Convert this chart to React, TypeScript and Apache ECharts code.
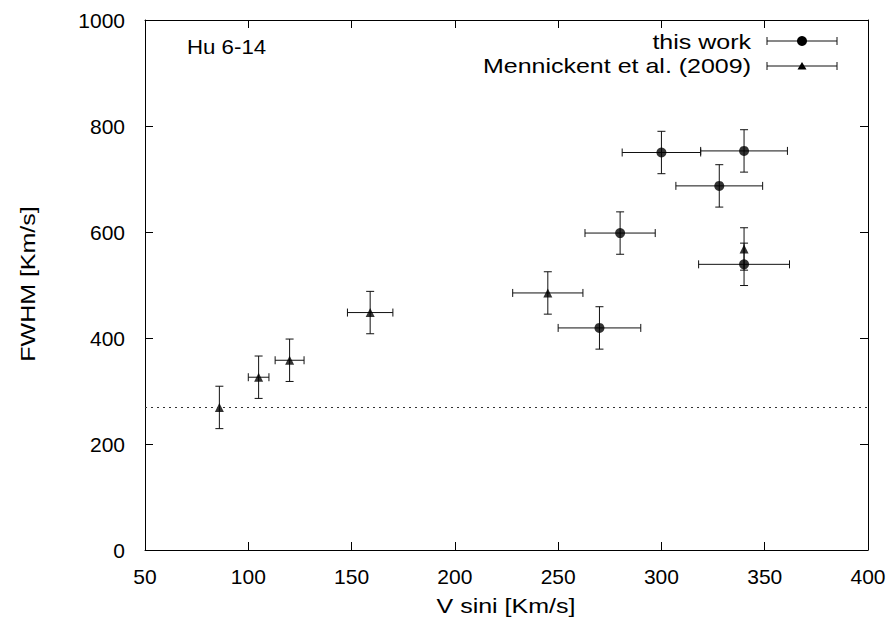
import React, { useEffect, useRef } from "react";
import * as echarts from "echarts";

// This work: V sini, FWHM and their uncertainties (km/s)
const vsiniThis = [300, 340, 328, 280, 340, 270];
const fwhmThis = [750, 753, 687, 598, 539, 419];
const vsiniErrThis = [19, 21, 21, 17, 22, 20];
const fwhmErrThis = [40, 40, 40, 40, 40, 40];

// Mennickent et al. (2009)
const vsiniMen = [86, 105, 120, 159, 245, 340];
const fwhmMen = [269, 326, 358, 448, 485, 568];
const vsiniErrMen = [0, 5, 7, 11, 17, 0];
const fwhmErrMen = [40, 40, 40, 40, 40, 40];

// Horizontal reference level
const fwhmLevel = 270;

const xTicks = { min: 50, max: 400, interval: 50 };
const yTicks = { min: 0, max: 1000, interval: 200 };

const FONT = "Liberation Sans, Arial, Helvetica, sans-serif";
const INK = "#000";
const TEXT_SIZE = 21;
// the lettering is set a little wider than the plain face
const WIDE = 1.19;

function errorRows(xs: number[], ys: number[], xe: number[], ye: number[]) {
  return xs.map((x, i) => [x, ys[i], xe[i], ye[i]]);
}

function renderErrorBars(_params: any, api: any) {
  const x = api.value(0);
  const y = api.value(1);
  const xe = api.value(2);
  const ye = api.value(3);
  const c = api.coord([x, y]);
  const cap = 4;
  const style = { stroke: "#111", lineWidth: 1 };
  const children: any[] = [];
  if (ye > 0) {
    const top = api.coord([x, y + ye])[1];
    const bot = api.coord([x, y - ye])[1];
    children.push({ type: "line", shape: { x1: c[0], y1: top, x2: c[0], y2: bot }, style });
    children.push({ type: "line", shape: { x1: c[0] - cap, y1: top, x2: c[0] + cap, y2: top }, style });
    children.push({ type: "line", shape: { x1: c[0] - cap, y1: bot, x2: c[0] + cap, y2: bot }, style });
  }
  if (xe > 0) {
    const l = api.coord([x - xe, y])[0];
    const r = api.coord([x + xe, y])[0];
    children.push({ type: "line", shape: { x1: l, y1: c[1], x2: r, y2: c[1] }, style });
    children.push({ type: "line", shape: { x1: l, y1: c[1] - cap, x2: l, y2: c[1] + cap }, style });
    children.push({ type: "line", shape: { x1: r, y1: c[1] - cap, x2: r, y2: c[1] + cap }, style });
  }
  return { type: "group", children };
}

function legendSample(y: number, marker: any) {
  const x1 = 767;
  const x2 = 837;
  const style = { stroke: "#111", lineWidth: 1 };
  return [
    { type: "line", shape: { x1, y1: y, x2, y2: y }, style },
    { type: "line", shape: { x1, y1: y - 4, x2: x1, y2: y + 4 }, style },
    { type: "line", shape: { x1: x2, y1: y - 4, x2, y2: y + 4 }, style },
    marker,
  ];
}

function label(text: string, x: number, y: number, align: string, extra: any = {}) {
  return {
    type: "text",
    x,
    y,
    scaleX: WIDE,
    ...extra,
    style: {
      text,
      fontSize: TEXT_SIZE,
      fontFamily: FONT,
      fill: INK,
      align,
      verticalAlign: "middle",
    },
  };
}

export default function App() {
  const ref = useRef<HTMLDivElement>(null);

  useEffect(() => {
    if (!ref.current) return;
    const chart = echarts.init(ref.current, undefined, { renderer: "svg" });

    const axisCommon = {
      axisLine: { show: true, onZero: false, lineStyle: { color: INK, width: 1 } },
      axisTick: { show: true, inside: true, length: 8, lineStyle: { color: INK } },
      splitLine: { show: false },
    };
    const tickLabel = {
      color: INK,
      fontSize: TEXT_SIZE,
      fontFamily: FONT,
      formatter: (v: number) => String(v),
    };

    chart.setOption({
      animation: false,
      backgroundColor: "#fff",
      textStyle: { fontFamily: FONT },
      grid: { left: 145, right: 26, top: 20, bottom: 78 },
      xAxis: [
        {
          type: "value",
          ...xTicks,
          position: "bottom",
          ...axisCommon,
          axisLabel: { ...tickLabel, margin: 16 },
        },
        {
          type: "value",
          ...xTicks,
          position: "top",
          ...axisCommon,
          axisLabel: { show: false },
        },
      ],
      yAxis: [
        {
          type: "value",
          ...yTicks,
          position: "left",
          ...axisCommon,
          axisLabel: { ...tickLabel, margin: 20 },
        },
        {
          type: "value",
          ...yTicks,
          position: "right",
          ...axisCommon,
          axisLabel: { show: false },
        },
      ],
      series: [
        {
          name: "level",
          type: "line",
          data: [],
          silent: true,
          markLine: {
            symbol: "none",
            silent: true,
            label: { show: false },
            lineStyle: { color: "#333", type: [2, 4], width: 1 },
            data: [{ yAxis: fwhmLevel }],
          },
        },
        {
          name: "this work errors",
          type: "custom",
          renderItem: renderErrorBars,
          encode: { x: 0, y: 1 },
          data: errorRows(vsiniThis, fwhmThis, vsiniErrThis, fwhmErrThis),
          z: 2,
        },
        {
          name: "Mennickent errors",
          type: "custom",
          renderItem: renderErrorBars,
          encode: { x: 0, y: 1 },
          data: errorRows(vsiniMen, fwhmMen, vsiniErrMen, fwhmErrMen),
          z: 2,
        },
        {
          name: "this work",
          type: "scatter",
          symbol: "circle",
          symbolSize: 10,
          itemStyle: { color: INK },
          data: vsiniThis.map((x, i) => [x, fwhmThis[i]]),
          z: 3,
        },
        {
          name: "Mennickent et al. (2009)",
          type: "scatter",
          symbol: "triangle",
          symbolSize: 9,
          itemStyle: { color: INK },
          data: vsiniMen.map((x, i) => [x, fwhmMen[i]]),
          z: 3,
        },
      ],
      graphic: [
        label("Hu 6-14", 187, 47, "left", { scaleX: 1.06 }),
        label("this work", 751, 42, "right"),
        label("Mennickent et al. (2009)", 751, 66, "right"),
        label("V sini [Km/s]", 506, 606, "center"),
        label("FWHM [Km/s]", 28, 284, "center", { rotation: Math.PI / 2 }),
        ...legendSample(41, {
          type: "circle",
          shape: { cx: 802, cy: 41, r: 5 },
          style: { fill: INK },
        }),
        ...legendSample(66, {
          type: "polygon",
          shape: { points: [[802, 62], [806.5, 69.5], [797.5, 69.5]] },
          style: { fill: INK },
        }),
      ],
    });

    return () => chart.dispose();
  }, []);

  return (
    <div
      ref={ref}
      style={{ position: "fixed", left: 0, top: 0, width: 894, height: 628, background: "#fff" }}
    />
  );
}
